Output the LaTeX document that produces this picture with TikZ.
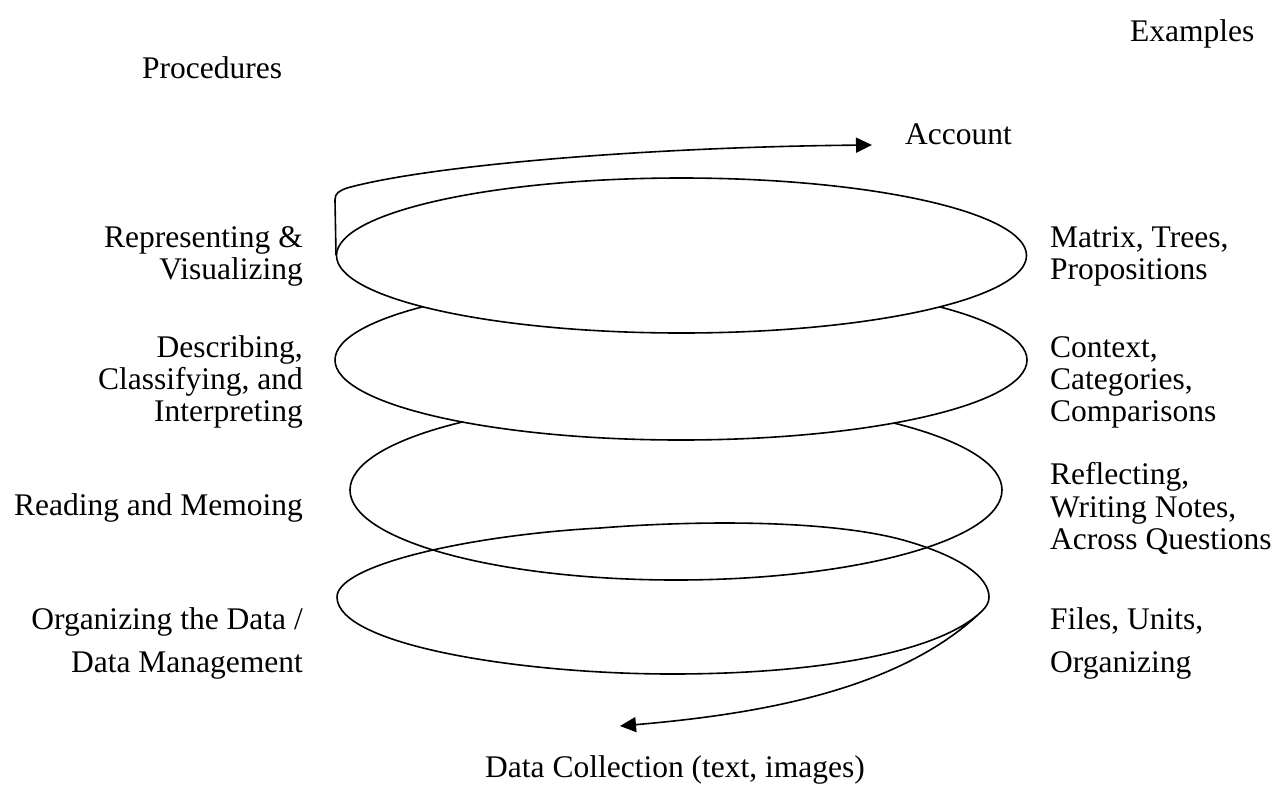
\documentclass[tikz,border=0pt]{standalone}
\usepackage{fontspec}
\setmainfont{Liberation Serif}
\usetikzlibrary{arrows.meta}
\begin{document}
\begin{tikzpicture}[x=1pt,y=-1pt,
  lbl/.style={inner sep=0pt,font=\fontsize{31.5}{36}\selectfont},
  lft/.style={lbl,anchor=base east},
  rgt/.style={lbl,anchor=base west},
  ring/.style={line width=1.6pt,draw=black,fill=white},
  spiral/.style={line width=1.6pt,draw=black},
  tip/.style={-{Triangle[length=16pt,width=15pt]}}]
\useasboundingbox (0,0) rectangle (1287,785);

% column headings
\node[rgt] (hproc) at (142,78) {Procedures};
\node[rgt] (hex) at (1130,41) {Examples};

% stacked rings, lowest first so each upper ring hides the one below
\draw[ring] (676,490) ellipse [x radius=326, y radius=90];

% bottom turn of the spiral with its tail down to the data collection
\coordinate (sstart) at (982,611);
\coordinate (send) at (620,726);
\draw[spiral,tip] (sstart)
  .. controls (940,652) and (820,674) .. (672,674)
  .. controls (520,674) and (337,645) .. (337,597)
  .. controls (337,565) and (470,535) .. (600,528)
  .. controls (700,520) and (830,520) .. (903,540)
  .. controls (960,556) and (989,577) .. (989,597)
  .. controls (989,603) and (986,607) .. (sstart)
  .. controls (900,690) and (760,714) .. (send);

\draw[ring] (681,360) ellipse [x radius=346, y radius=80];
\draw[ring] (681.5,255.5) ellipse [x radius=345, y radius=77.5];

% top turn leaving towards the account
\coordinate (tstart) at (336,255);
\coordinate (tend) at (872,145);
\draw[spiral,tip] (tstart) -- (335,200)
  .. controls (335,193) and (339,191) .. (347,188)
  .. controls (430,165) and (650,147) .. (tend);

\node[rgt] (acc) at (905,144) {Account};
\node[lbl,anchor=base] (dc) at (675,777) {Data Collection (text, images)};

% procedures
\node[lft] (p1a) at (303,247) {Representing \&};
\node[lft] (p1b) at (303,279) {Visualizing};
\node[lft] (p2a) at (303,357) {Describing,};
\node[lft] (p2b) at (303,389) {Classifying, and};
\node[lft] (p2c) at (303,421) {Interpreting};
\node[lft] (p3a) at (303,515) {Reading and Memoing};
\node[lft] (p4a) at (303,629) {Organizing the Data /};
\node[lft] (p4b) at (303,672) {Data Management};

% examples
\node[rgt] (e1a) at (1050,247) {Matrix, Trees,};
\node[rgt] (e1b) at (1050,279) {Propositions};
\node[rgt] (e2a) at (1050,357) {Context,};
\node[rgt] (e2b) at (1050,389) {Categories,};
\node[rgt] (e2c) at (1050,421) {Comparisons};
\node[rgt] (e3a) at (1050,484) {Reflecting,};
\node[rgt] (e3b) at (1050,517) {Writing Notes,};
\node[rgt] (e3c) at (1050,549) {Across Questions};
\node[rgt] (e4a) at (1050,629) {Files, Units,};
\node[rgt] (e4b) at (1050,672) {Organizing};
\end{tikzpicture}
\end{document}
